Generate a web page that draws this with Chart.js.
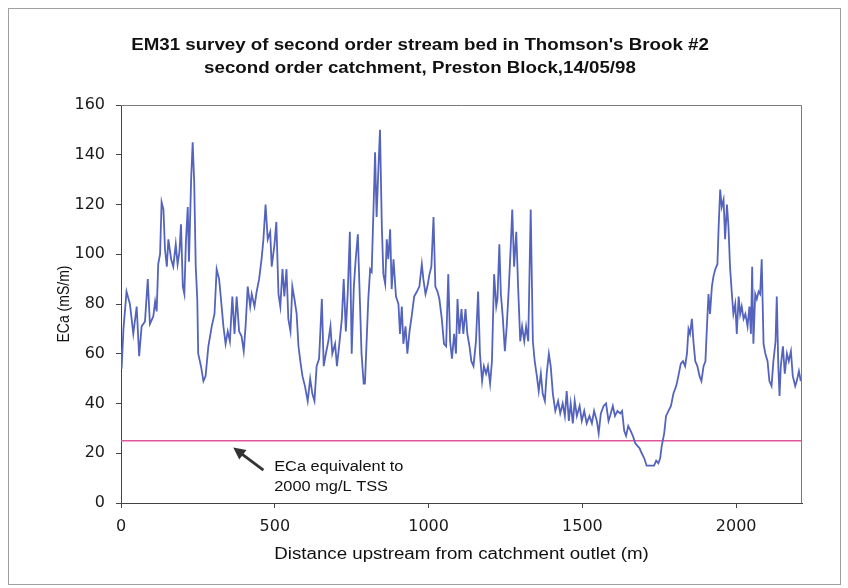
<!DOCTYPE html>
<html>
<head>
<meta charset="utf-8">
<title>EM31 survey, Thomson's Brook #2</title>
<script src="https://cdn.jsdelivr.net/npm/chart.js@4.4.1/dist/chart.umd.min.js"></script>
<style>
  html, body { margin: 0; padding: 0; background: #fff; }
  #wrap { width: 848px; height: 588px; }
</style>
</head>
<body>
<div id="wrap"><canvas id="survey" width="848" height="588"></canvas></div>
<script>
// distance upstream from the outlet (m)
const distance = [
  0, 2, 8, 18, 29, 40, 51, 59, 67, 78,
  87, 94, 105, 111, 116, 121, 127, 132, 138, 143,
  149, 154, 163, 170, 178, 184, 190, 195, 201, 206,
  211, 217, 221, 228, 233, 238, 243, 248, 251, 260,
  268, 275, 284, 295, 304, 311, 319, 325, 333, 340,
  347, 354, 362, 369, 376, 384, 392, 399, 405, 412,
  420, 425, 434, 441, 449, 457, 463, 470, 477, 485,
  490, 499, 505, 512, 518, 525, 531, 538, 544, 551,
  557, 564, 571, 577, 583, 590, 598, 607, 615, 622,
  629, 636, 644, 653, 659, 666, 674, 681, 687, 696,
  702, 709, 718, 724, 731, 737, 744, 750, 757, 763,
  770, 777, 782, 789,
  793, 804, 810, 815, 823, 826, 831, 837, 842, 848,
  853, 859, 864, 869, 875, 880, 886, 894, 902, 907,
  913, 918, 925, 931, 938, 945, 953, 962, 970, 978,
  983, 990, 996, 1003, 1009, 1016, 1022, 1029, 1035, 1043,
  1050, 1057, 1064, 1070, 1076, 1083, 1089, 1094, 1100, 1107,
  1113, 1120, 1126, 1133, 1139, 1146, 1154, 1161, 1167, 1174,
  1180, 1187, 1193, 1200, 1206, 1213, 1220, 1224, 1230, 1235,
  1241, 1248, 1254, 1261, 1267, 1272, 1278, 1285, 1291, 1298,
  1304, 1311, 1317, 1324, 1332, 1339, 1345, 1352, 1358, 1365,
  1371, 1378, 1384, 1391, 1397, 1404, 1412, 1421, 1428, 1436,
  1443, 1449, 1456, 1462, 1469, 1475, 1482, 1491, 1498, 1506,
  1514, 1523, 1531, 1538, 1547, 1553, 1560, 1569, 1577, 1585,
  1590, 1599, 1606, 1614, 1623, 1629, 1636, 1642, 1649, 1657,
  1664, 1672, 1679, 1686, 1693, 1701, 1709, 1718, 1726, 1733,
  1740, 1747, 1753, 1758, 1766, 1772, 1780, 1788, 1796, 1805,
  1812, 1820, 1827, 1834, 1840, 1845, 1850, 1856, 1861, 1867,
  1874, 1881, 1887, 1894, 1900, 1905, 1910, 1915, 1921, 1926,
  1932, 1939, 1943, 1948, 1953, 1959, 1964, 1970, 1975, 1980,
  1986, 1991, 1997, 2002, 2008, 2013, 2018, 2024, 2030, 2037,
  2043, 2048, 2052, 2056, 2062, 2067, 2073, 2078, 2083, 2089,
  2095, 2102, 2108, 2115, 2121, 2128, 2132, 2137, 2141, 2145,
  2152, 2158, 2165, 2171, 2178, 2184, 2192, 2197, 2204, 2210
];

// apparent conductivity ECa (mS/m)
const eca = [
  62, 54, 70, 85, 80, 68, 79, 59, 71, 73,
  90, 72, 75, 81, 77, 96, 100, 121, 118, 102,
  95, 106, 98, 95, 104, 96, 101, 112, 87, 84,
  105, 119, 97, 130, 145, 129, 95, 82, 60, 55,
  49, 51, 63, 71, 76, 94, 90, 82, 71, 64,
  69, 65, 83, 68, 83, 69, 67, 61, 71, 87,
  79, 84, 79, 85, 90, 98, 106, 120, 106, 109,
  95, 104, 113, 84, 79, 94, 83, 94, 74, 69,
  87, 82, 76, 63, 57, 51, 47, 41, 50, 44,
  41, 55, 58, 82, 55, 60, 65, 71, 60, 64,
  55, 63, 74, 90, 69, 84, 109, 60, 87, 98,
  108, 80, 60, 48,
  48, 82, 94, 93, 127, 141, 115, 135, 150, 111,
  92, 88, 106, 98, 110, 86, 98, 83, 80, 68,
  79, 64, 71, 60, 69, 75, 83, 85, 87, 96,
  90, 84, 87, 92, 95, 115, 87, 85, 82, 74,
  64, 63, 92, 65, 58, 68, 60, 82, 68, 78,
  68, 78, 68, 63, 57, 55, 65, 85, 60, 49,
  55, 52, 55, 48, 57, 92, 79, 82, 104, 84,
  75, 61, 71, 87, 103, 118, 95, 109, 87, 65,
  71, 65, 71, 65, 118, 65, 57, 51, 45, 52,
  44, 41, 52, 60, 55, 44, 37, 41, 36, 40,
  35, 45, 33, 40, 32, 41, 35, 39, 33, 37,
  32, 35, 32, 37, 33, 28, 36, 39, 40, 33,
  35, 39, 35, 37, 36, 37, 29, 27, 31, 29,
  27, 24, 23, 22, 20, 18, 15, 15, 15, 15,
  17, 16, 18, 23, 28, 35, 37, 39, 44, 47,
  51, 56, 57, 55, 60, 70, 68, 74, 65, 57,
  55, 51, 49, 55, 57, 71, 84, 76, 87, 91,
  94, 96, 111, 126, 119, 122, 106, 120, 111, 95,
  84, 76, 80, 68, 83, 76, 79, 74, 76, 71,
  79, 68, 95, 64, 84, 82, 85, 84, 98, 64,
  60, 57, 49, 47, 57, 65, 83, 55, 43, 55,
  63, 52, 60, 57, 61, 51, 47, 49, 53, 49
];

// ECa equivalent to 2000 mg/L TSS
const tssThreshold = 25;

const xTicks = [0, 500, 1000, 1500, 2000];
const yTicks = [0, 20, 40, 60, 80, 100, 120, 140, 160];
const xMax = 2214;

const titleLines = [
  "EM31 survey of second order stream bed in Thomson's Brook #2",
  "second order catchment, Preston Block,14/05/98"
];
const noteLines = ['ECa equivalent to', '2000 mg/L TSS'];

const FONT = '"Liberation Sans", Arial, sans-serif';
const TICK_FONT = '"DejaVu Sans", Verdana, sans-serif';
const WIDE = 1.17; // text in this chart is set a little wide

const surveyPoints = distance.map((d, i) => ({ x: d, y: eca[i] }));
const thresholdPoints = [{ x: 0, y: tssThreshold }, { x: xMax, y: tssThreshold }];

function wideText(ctx, text, x, y) {
  ctx.save();
  ctx.translate(x, y);
  ctx.scale(WIDE, 1);
  ctx.fillText(text, 0, 0);
  ctx.restore();
}

// frame, plot box, titles and the threshold note
const decor = {
  id: 'decor',
  beforeDraw(chart) {
    const ctx = chart.ctx;
    ctx.save();
    ctx.fillStyle = '#fff';
    ctx.fillRect(0, 0, chart.width, chart.height);
    ctx.strokeStyle = '#a0a0a0';
    ctx.lineWidth = 1;
    ctx.strokeRect(8.5, 8.5, chart.width - 16, chart.height - 12);
    ctx.restore();
  },
  afterDraw(chart) {
    const ctx = chart.ctx;
    const a = chart.chartArea;
    const xs = chart.scales.x, ys = chart.scales.y;
    ctx.save();

    ctx.strokeStyle = '#7a7a7a';
    ctx.lineWidth = 1;
    ctx.beginPath();
    ctx.moveTo(a.left, a.top + 0.5);
    ctx.lineTo(a.right - 0.5, a.top + 0.5);
    ctx.lineTo(a.right - 0.5, a.bottom);
    ctx.stroke();

    ctx.fillStyle = '#111';
    ctx.textAlign = 'center';
    ctx.textBaseline = 'middle';
    ctx.font = 'bold 16px ' + FONT;
    wideText(ctx, titleLines[0], 420, 46);
    wideText(ctx, titleLines[1], 420, 69);

    ctx.font = '16px ' + FONT;
    wideText(ctx, 'Distance upstream from catchment outlet (m)', (a.left + a.right) / 2, 555);

    ctx.save();
    ctx.translate(64, (a.top + a.bottom) / 2);
    ctx.rotate(-Math.PI / 2);
    ctx.scale(1, WIDE);
    ctx.font = '14px ' + FONT;
    ctx.fillText('ECa (mS/m)', 0, 0);
    ctx.restore();

    // arrow pointing at the threshold line
    const hx = xs.getPixelForValue(365), hy = ys.getPixelForValue(22.3);
    const tx = xs.getPixelForValue(463), ty = ys.getPixelForValue(13.2);
    const ang = Math.atan2(hy - ty, hx - tx);
    ctx.strokeStyle = '#333';
    ctx.fillStyle = '#333';
    ctx.lineWidth = 2.8;
    ctx.beginPath();
    ctx.moveTo(tx, ty);
    ctx.lineTo(hx - 8 * Math.cos(ang), hy - 8 * Math.sin(ang));
    ctx.stroke();
    ctx.beginPath();
    ctx.moveTo(hx, hy);
    ctx.lineTo(hx - 12 * Math.cos(ang) + 6 * Math.sin(ang), hy - 12 * Math.sin(ang) - 6 * Math.cos(ang));
    ctx.lineTo(hx - 12 * Math.cos(ang) - 6 * Math.sin(ang), hy - 12 * Math.sin(ang) + 6 * Math.cos(ang));
    ctx.closePath();
    ctx.fill();

    ctx.fillStyle = '#111';
    ctx.textAlign = 'left';
    ctx.font = '14px ' + FONT;
    const nx = xs.getPixelForValue(498);
    wideText(ctx, noteLines[0], nx, ys.getPixelForValue(14.5));
    wideText(ctx, noteLines[1], nx, ys.getPixelForValue(6.5));

    ctx.restore();
  }
};

new Chart(document.getElementById('survey'), {
  type: 'line',
  data: {
    datasets: [
      {
        label: 'ECa',
        data: surveyPoints,
        borderColor: '#5464bd',
        borderWidth: 1.8,
        pointRadius: 0,
        tension: 0
      },
      {
        label: 'TSS threshold',
        data: thresholdPoints,
        borderColor: '#e0569a',
        borderWidth: 1.5,
        pointRadius: 0
      }
    ]
  },
  options: {
    responsive: false,
    animation: false,
    events: [],
    layout: { padding: { top: 105, right: 46, left: 0, bottom: 0 } },
    plugins: {
      legend: { display: false },
      tooltip: { enabled: false },
      title: { display: false }
    },
    scales: {
      x: {
        type: 'linear',
        min: 0,
        max: xMax,
        afterFit(scale) { scale.height = 85; },
        afterBuildTicks(scale) { scale.ticks = xTicks.map(v => ({ value: v })); },
        ticks: {
          padding: 9,
          color: '#1a1a1a',
          font: { family: TICK_FONT, size: 16 },
          maxRotation: 0,
          callback: v => String(v)
        },
        grid: { drawOnChartArea: false, drawTicks: true, tickLength: 5, color: '#444' },
        border: { display: true, color: '#444', width: 1 }
      },
      y: {
        min: 0,
        max: 160,
        afterFit(scale) { scale.width = 121; },
        afterBuildTicks(scale) { scale.ticks = yTicks.map(v => ({ value: v })); },
        ticks: {
          padding: 11,
          color: '#1a1a1a',
          font: { family: TICK_FONT, size: 16 },
          callback: v => String(v)
        },
        grid: { drawOnChartArea: false, drawTicks: true, tickLength: 5, color: '#444' },
        border: { display: true, color: '#444', width: 1 }
      }
    }
  },
  plugins: [decor]
});
</script>
</body>
</html>
